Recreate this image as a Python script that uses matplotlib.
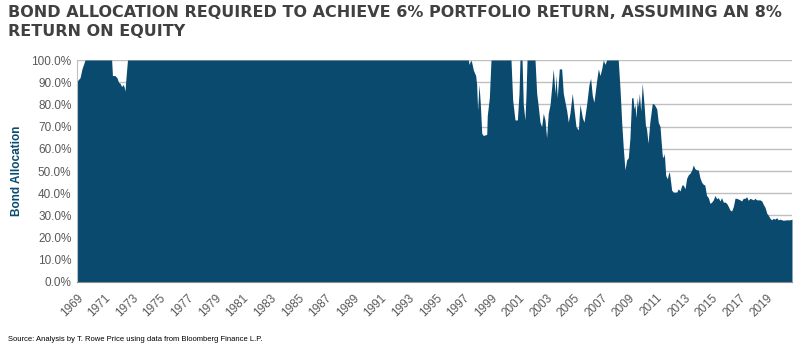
import matplotlib.pyplot as plt
plt.rcParams['font.family'] = 'sans-serif'
plt.rcParams['font.sans-serif'] = 'Liberation Sans'

# Data (decimal year, bond allocation %)
years = [1969.00, 1969.07, 1969.22, 1969.36, 1969.47, 1969.58, 1971.51, 1971.57, 1971.75, 1971.90,
         1972.01, 1972.12, 1972.24, 1972.33, 1972.41, 1972.48, 1972.55, 1972.66,
         1997.36, 1997.41, 1997.53, 1997.60, 1997.72, 1997.89, 1997.96, 1998.03, 1998.13, 1998.22,
         1998.33, 1998.44, 1998.69, 1998.73, 1998.88, 1999.00, 2000.45, 2000.57, 2000.74, 2000.91,
         2001.03, 2001.10, 2001.25, 2001.34, 2001.46, 2001.54, 2001.61, 2002.19, 2002.31, 2002.41,
         2002.55, 2002.67, 2002.79, 2002.91, 2003.03, 2003.15, 2003.28, 2003.40, 2003.51, 2003.64,
         2003.71, 2003.80, 2003.95, 2004.12, 2004.24, 2004.49, 2004.60, 2004.72, 2004.89, 2005.01,
         2005.16, 2005.33, 2005.45, 2005.62, 2005.74, 2005.93, 2006.10, 2006.22, 2006.34, 2006.46,
         2006.66, 2006.78, 2006.90, 2007.02, 2007.14, 2007.26, 2007.38, 2008.22, 2008.35, 2008.47,
         2008.59, 2008.71, 2008.83, 2008.95, 2009.07, 2009.19, 2009.29, 2009.36, 2009.43, 2009.51,
         2009.60, 2009.67, 2009.75, 2009.85, 2009.96, 2010.09, 2010.19, 2010.27, 2010.38, 2010.51,
         2010.69, 2010.83, 2011.01, 2011.12, 2011.25, 2011.32, 2011.41, 2011.49, 2011.56, 2011.66,
         2011.78, 2011.85, 2011.92, 2012.02, 2012.09, 2012.21, 2012.33, 2012.46, 2012.57, 2012.70,
         2012.83, 2012.93, 2013.06, 2013.18, 2013.30, 2013.42, 2013.55, 2013.66, 2013.78, 2013.91,
         2014.02, 2014.14, 2014.26, 2014.38, 2014.49, 2014.62, 2014.75, 2014.87, 2014.99, 2015.11,
         2015.23, 2015.35, 2015.47, 2015.59, 2015.71, 2015.83, 2015.96, 2016.08, 2016.20, 2016.32,
         2016.44, 2016.56, 2016.68, 2016.80, 2017.04, 2017.16, 2017.28, 2017.41, 2017.53, 2017.64,
         2017.77, 2018.01, 2018.13, 2018.25, 2018.49, 2018.62, 2018.73, 2018.86, 2018.98, 2019.10,
         2019.22, 2019.34, 2019.46, 2019.58, 2019.70, 2019.81, 2019.94, 2020.18, 2020.42, 2020.66,
         2020.81]
alloc = [90, 91, 92, 96, 98, 100, 100, 93, 93, 92,
         90, 89.5, 88, 89, 88, 86, 92, 100,
         100, 98, 100, 99, 95.5, 93, 89, 77.5, 89, 81,
         67, 66, 66.5, 75, 83, 100, 100, 82, 73, 73,
         85, 100, 100, 80, 73, 85, 100, 100, 85, 80,
         72, 70, 76, 73, 65, 76, 80, 88, 96, 85,
         93, 83, 96, 96, 85, 77, 72, 76, 85, 78,
         70, 68.5, 80, 74, 72, 80, 89, 91.7, 84, 81,
         91, 96, 93, 96, 100, 98, 100, 100, 87, 72,
         60, 50.5, 55, 56, 65, 83, 83, 78, 80, 74,
         83, 79, 85, 77, 89.5, 80, 70.7, 69, 62.5, 72,
         80.5, 80, 78, 72, 70, 64, 57, 56, 58, 48,
         46.5, 48.5, 49.7, 45, 41.4, 40.5, 40.5, 40.5, 42, 41,
         43.7, 43.7, 42, 46.8, 48.3, 49, 50.5, 52.7, 51, 50.5,
         50.5, 47, 45, 44, 43.7, 39, 38, 35.4, 36, 37,
         39, 37.5, 38, 36.5, 38, 36, 36, 35.4, 34, 32.4,
         32, 34, 37.7, 37.7, 37, 36.5, 37.7, 37.7, 38.4, 36.8,
         37.7, 37, 37.7, 37, 37, 36.5, 35, 33.6, 31, 30,
         28.7, 28, 28.7, 28.3, 29, 28, 28.3, 27.8, 28, 28,
         28.3]
tick_years = list(range(1969, 2021, 2))

fill_col = '#0a4a6e'
grey = '#595959'

fig = plt.figure(figsize=(7.97, 3.51), dpi=100)
ax = fig.add_axes([0.0966, 0.1966, 0.8971, 0.6324])

ax.fill_between(years, alloc, 0, color=fill_col, linewidth=0, zorder=2)
ax.set_xlim(1969, 2020.81)
ax.set_ylim(0, 100)

ax.set_yticks(range(0, 101, 10))
ax.set_yticklabels([f"{v:.1f}%" for v in range(0, 101, 10)], fontsize=8.5, color=grey)
ax.set_xticks(tick_years)
ax.set_xticklabels([str(y) for y in tick_years], fontsize=8.5, color=grey,
                   rotation=45, ha='right', rotation_mode='anchor')
ax.tick_params(length=0, pad=4)
ax.tick_params(axis='x', pad=7)

ax.yaxis.grid(True, color='#bfbfbf', linewidth=1, zorder=0)
ax.set_axisbelow(True)
for s in ['top', 'right']:
    ax.spines[s].set_visible(False)
ax.spines['left'].set_color('#bfbfbf')
ax.spines['bottom'].set_color('#8c8c8c')

ax.set_ylabel('Bond Allocation', fontsize=8.5, fontweight='bold', color=fill_col, labelpad=6)

fig.text(0.01, 0.986, 'BOND ALLOCATION REQUIRED TO ACHIEVE 6% PORTFOLIO RETURN, ASSUMING AN 8%\nRETURN ON EQUITY',
         fontsize=11.5, fontweight='bold', family='DejaVu Sans', color='#404040',
         va='top', ha='left', linespacing=1.35)
fig.text(0.01, 0.022, 'Source: Analysis by T. Rowe Price using data from Bloomberg Finance L.P.',
         fontsize=5.5, color='black', va='bottom', ha='left')

plt.savefig('out.png', dpi=100)
